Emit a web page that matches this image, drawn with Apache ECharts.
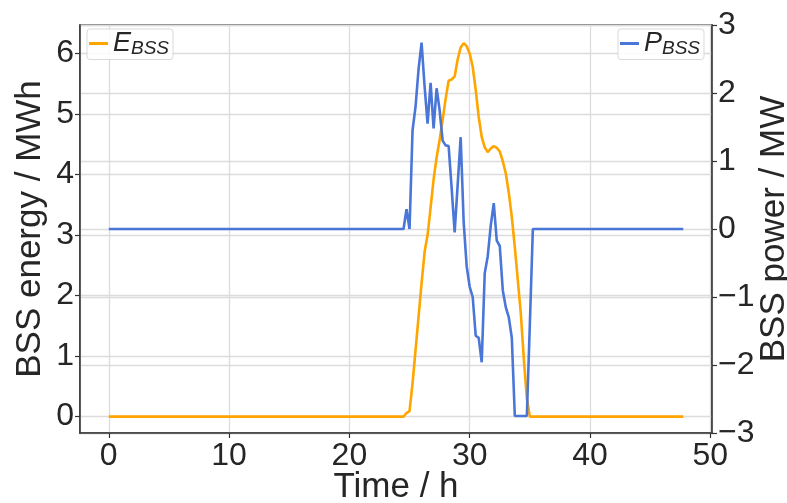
<!DOCTYPE html>
<html>
<head>
<meta charset="utf-8">
<script src="https://cdn.jsdelivr.net/npm/echarts@6/dist/echarts.min.js"></script>
<style>
  html, body { margin: 0; padding: 0; background: #fff; }
  #chart { width: 787px; height: 503px; }
</style>
</head>
<body>
<div id="chart"></div>
<script>
// Battery storage system: stored energy (left axis) and power (right axis) over two days
const hours = [0, 24.25, 24.5, 24.75, 25, 25.25, 25.5, 25.75, 26, 26.25, 26.5, 26.75, 27, 27.25, 27.5, 27.75,
  28, 28.25, 28.5, 28.75, 29, 29.25, 29.5, 29.75, 30, 30.25, 30.5, 30.75, 31, 31.25, 31.5, 31.75,
  32, 32.25, 32.5, 32.75, 33, 33.25, 33.5, 33.75, 34, 34.25, 34.5, 34.75, 35, 35.25, 35.5, 47.75];

// BSS energy in MWh
const energy = [0, 0, 0, 0.06, 0.09, 0.55, 1.1, 1.65, 2.2, 2.72, 3.0, 3.45, 3.92, 4.28, 4.57, 4.9,
  5.25, 5.55, 5.57, 5.62, 5.9, 6.1, 6.17, 6.12, 6.0, 5.78, 5.4, 4.95, 4.62, 4.45, 4.37, 4.43,
  4.47, 4.44, 4.38, 4.22, 4.02, 3.7, 3.3, 2.8, 2.25, 1.7, 0.95, 0.3, 0, 0, 0, 0];

// BSS power in MW
const power = [0, 0, 0, 0.29, 0, 1.45, 1.8, 2.35, 2.74, 2.1, 1.55, 2.15, 1.48, 2.07, 1.75, 1.3,
  1.23, 1.22, 0.6, -0.05, 0.65, 1.35, 0.1, -0.55, -0.85, -1.0, -1.57, -1.6, -1.96, -0.65, -0.4, 0.05,
  0.38, -0.17, -0.25, -0.9, -1.15, -1.3, -1.6, -2.75, -2.75, -2.75, -2.75, -2.75, -1.4, 0, 0, 0];

const xTicks = [0, 10, 20, 30, 40, 50];
const energyTicks = [0, 1, 2, 3, 4, 5, 6];
const powerTicks = [-3, -2, -1, 0, 1, 2, 3];

const FONT = '"Liberation Sans", Arial, sans-serif';
const TEXT = '#262626';
const SPINE = '#333333';
const GRIDLINE = '#dcdcdc';

function tickFormatter(allowed) {
  return function (v) {
    const r = Math.round(v * 1000) / 1000;
    if (allowed.indexOf(r) < 0) return '';
    return String(r).replace('-', '\u2212');
  };
}

const chart = echarts.init(document.getElementById('chart'), null, { renderer: 'canvas' });

const legendBase = {
  top: 29,
  orient: 'horizontal',
  icon: 'rect',
  itemWidth: 19,
  itemHeight: 3,
  padding: [1, 4, 1, 2],
  backgroundColor: 'rgba(255,255,255,0.85)',
  borderColor: '#d9d9d9',
  borderWidth: 1,
  borderRadius: 3,
  formatter: function (name) {
    const parts = name.split('_');
    return '{m|' + parts[0] + '}{s|' + parts[1] + '}';
  },
  textStyle: {
    color: TEXT,
    fontFamily: FONT,
    rich: {
      m: { fontSize: 27, fontStyle: 'italic', lineHeight: 30, fontFamily: FONT, color: TEXT },
      s: { fontSize: 19, fontStyle: 'italic', lineHeight: 14, verticalAlign: 'bottom', fontFamily: FONT, color: TEXT }
    }
  }
};

const nameStyle = { fontSize: 35, color: TEXT, fontFamily: FONT, lineHeight: 35 };

chart.setOption({
  animation: false,
  backgroundColor: '#fff',
  grid: {
    left: 80, right: 75, top: 25, bottom: 70,
    containLabel: false,
    outerBoundsMode: 'none',
    show: true, borderColor: SPINE, borderWidth: 1.5, backgroundColor: '#fff'
  },
  legend: [
    Object.assign({}, legendBase, { left: 87, data: ['E_BSS'] }),
    Object.assign({}, legendBase, { right: 83, data: ['P_BSS'] })
  ],
  xAxis: {
    type: 'value',
    min: -2.39,
    max: 50.14,
    splitNumber: 5,
    name: 'Time / h',
    nameLocation: 'middle',
    nameGap: 37,
    nameMoveOverlap: false,
    nameTextStyle: nameStyle,
    axisLine: { show: true, onZero: false, lineStyle: { color: SPINE, width: 1.5 } },
    axisTick: { show: true, length: 5, lineStyle: { color: SPINE, width: 1.2 } },
    axisLabel: {
      fontSize: 32, color: TEXT, fontFamily: FONT, margin: 7,
      showMinLabel: false, showMaxLabel: false,
      formatter: tickFormatter(xTicks)
    },
    splitLine: { show: true, lineStyle: { color: GRIDLINE, width: 1.3 } }
  },
  yAxis: [
    {
      type: 'value',
      position: 'left',
      min: -0.27,
      max: 6.47,
      splitNumber: 6,
      name: 'BSS energy / MWh',
      nameLocation: 'middle',
      nameRotate: 90,
      nameGap: 32,
      nameMoveOverlap: false,
      nameTextStyle: nameStyle,
      axisLine: { show: true, onZero: false, lineStyle: { color: SPINE, width: 1.5 } },
      axisTick: { show: true, length: 5, lineStyle: { color: SPINE, width: 1.2 } },
      axisLabel: {
        fontSize: 32, color: TEXT, fontFamily: FONT, margin: 6,
        showMinLabel: false, showMaxLabel: false,
        formatter: tickFormatter(energyTicks)
      },
      splitLine: { show: true, lineStyle: { color: GRIDLINE, width: 1.3 } }
    },
    {
      type: 'value',
      position: 'right',
      min: -3,
      max: 3,
      interval: 1,
      name: 'BSS power / MW',
      nameLocation: 'middle',
      nameRotate: 90,
      nameGap: 45,
      nameMoveOverlap: false,
      nameTextStyle: nameStyle,
      axisLine: { show: true, onZero: false, lineStyle: { color: SPINE, width: 1.5 } },
      axisTick: { show: true, length: 5, lineStyle: { color: SPINE, width: 1.2 } },
      axisLabel: {
        fontSize: 32, color: TEXT, fontFamily: FONT, margin: 6,
        formatter: tickFormatter(powerTicks)
      },
      splitLine: { show: true, lineStyle: { color: GRIDLINE, width: 1.3 } }
    }
  ],
  series: [
    {
      name: 'E_BSS',
      type: 'line',
      yAxisIndex: 0,
      data: hours.map((h, i) => [h, energy[i]]),
      showSymbol: false,
      symbol: 'none',
      lineStyle: { color: '#FFA500', width: 2.6 },
      itemStyle: { color: '#FFA500' },
      z: 3
    },
    {
      name: 'P_BSS',
      type: 'line',
      yAxisIndex: 1,
      data: hours.map((h, i) => [h, power[i]]),
      showSymbol: false,
      symbol: 'none',
      lineStyle: { color: '#4a76d8', width: 2.6 },
      itemStyle: { color: '#4a76d8' },
      z: 4
    }
  ]
});
</script>
</body>
</html>
